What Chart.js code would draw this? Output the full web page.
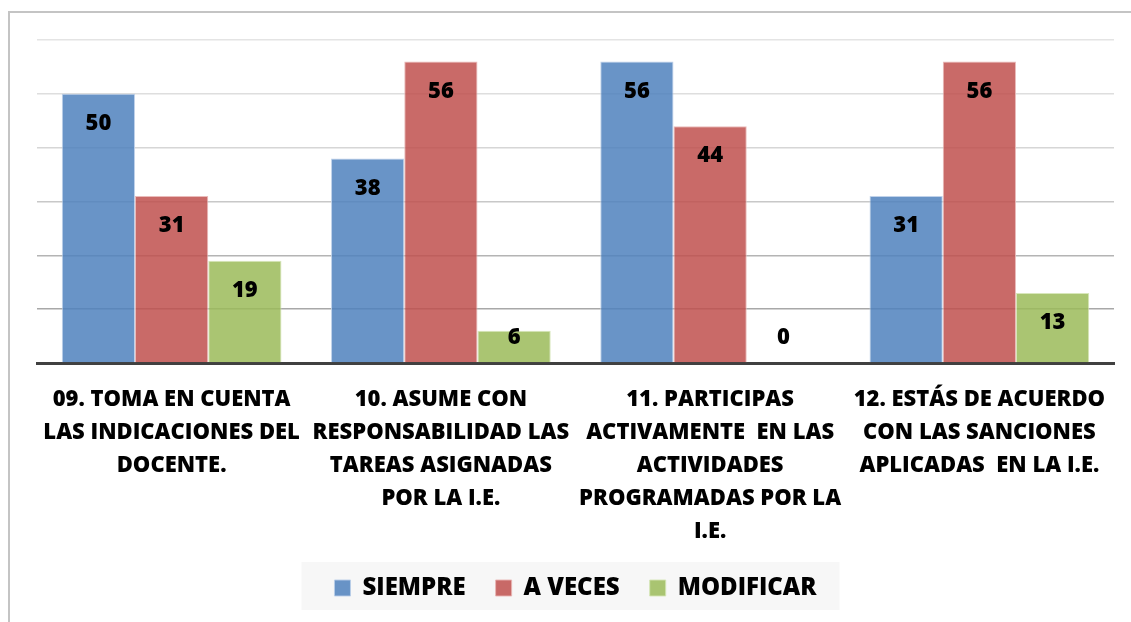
<!DOCTYPE html>
<html>
<head>
<meta charset="utf-8">
<script src="https://cdn.jsdelivr.net/npm/chart.js@4.4.1/dist/chart.umd.min.js"></script>
<style>
    html, body { margin: 0; padding: 0; background: #fff; overflow: hidden; }
    #frame {
        position: absolute; left: 8px; top: 11px; width: 1200px; height: 700px;
        border: 2px solid #c4c4c4; box-sizing: border-box;
    }
    #wrap { position: absolute; left: 0; top: 0; width: 1131px; height: 610px; }
</style>
</head>
<body>
<div id="frame"></div>
<div id="wrap"><canvas id="chart"></canvas></div>
<script>
// Questions on the x axis (already broken into lines as in the original)
const categories = [
    ['09. TOMA EN CUENTA', 'LAS INDICACIONES DEL', 'DOCENTE.'],
    ['10. ASUME CON', 'RESPONSABILIDAD LAS', 'TAREAS ASIGNADAS', 'POR LA I.E.'],
    ['11. PARTICIPAS', 'ACTIVAMENTE  EN LAS', 'ACTIVIDADES', 'PROGRAMADAS POR LA', 'I.E.'],
    ['12. ESTÁS DE ACUERDO', 'CON LAS SANCIONES', 'APLICADAS  EN LA I.E.']
];

const siempre = [50, 38, 56, 31];
const aVeces = [31, 56, 44, 56];
const modificar = [19, 6, 0, 13];

const FONT = '"Open Sans", "Noto Sans", sans-serif';
const WEIGHT = 800;

// light grid at the top, a bit darker towards the axis
const gridShades = ['#9a9a9a', '#a8a8a8', '#b4b4b4', '#c8c8c8', '#d6d6d6', '#dedede', '#e4e4e4'];

// Values written inside each bar, close to its top end
const barValueLabels = {
    id: 'barValueLabels',
    afterDatasetsDraw(chart) {
        const ctx = chart.ctx;
        ctx.save();
        ctx.font = WEIGHT + ' 22px ' + FONT;
        ctx.fillStyle = '#000';
        ctx.textAlign = 'center';
        ctx.textBaseline = 'middle';
        chart.data.datasets.forEach((ds, i) => {
            chart.getDatasetMeta(i).data.forEach((bar, j) => {
                const y = Math.min(bar.y + 30, bar.base - 25);
                ctx.fillText(String(ds.data[j]), bar.x, y);
            });
        });
        ctx.restore();
    }
};

// Grey panel behind the legend
const legendPanel = {
    id: 'legendPanel',
    beforeDraw(chart) {
        const boxes = chart.legend && chart.legend.legendHitBoxes;
        if (!boxes || !boxes.length) return;
        const left = Math.min(...boxes.map(b => b.left));
        const right = Math.max(...boxes.map(b => b.left + b.width));
        const mid = boxes[0].top + boxes[0].height / 2;
        const ctx = chart.ctx;
        ctx.save();
        ctx.fillStyle = '#f7f7f7';
        ctx.fillRect(left - 33, mid - 26, right - left + 56, 52);
        ctx.restore();
    }
};

new Chart(document.getElementById('chart'), {
    type: 'bar',
    data: {
        labels: categories,
        datasets: [
            {
                label: 'SIEMPRE',
                data: siempre,
                backgroundColor: 'rgba(79, 129, 189, 0.85)',
                borderColor: 'rgba(185, 205, 232, 0.9)',
                borderWidth: 1
            },
            {
                label: 'A VECES',
                data: aVeces,
                backgroundColor: 'rgba(192, 80, 77, 0.85)',
                borderColor: 'rgba(232, 180, 178, 0.9)',
                borderWidth: 1
            },
            {
                label: 'MODIFICAR',
                data: modificar,
                backgroundColor: 'rgba(155, 187, 89, 0.85)',
                borderColor: 'rgba(212, 228, 180, 0.9)',
                borderWidth: 1
            }
        ]
    },
    options: {
        responsive: true,
        maintainAspectRatio: false,
        animation: false,
        layout: { padding: { left: 37, right: 17, top: 40, bottom: 0 } },
        datasets: { bar: { categoryPercentage: 0.816, barPercentage: 1.0 } },
        scales: {
            x: {
                grid: { display: false, drawTicks: false },
                border: { color: '#404040', width: 3 },
                ticks: {
                    color: '#000',
                    padding: 20,
                    maxRotation: 0,
                    autoSkip: false,
                    font: { family: FONT, size: 22, weight: WEIGHT, lineHeight: 1.5 }
                },
                // let the legend sit a little closer to the labels
                afterFit(scale) { scale.height -= 22; }
            },
            y: {
                min: 0,
                max: 60,
                grid: {
                    drawTicks: false,
                    color: ctx => gridShades[ctx.index] || '#d9d9d9',
                    lineWidth: 1.5
                },
                border: { display: false },
                ticks: { display: false, stepSize: 10 }
            }
        },
        plugins: {
            legend: {
                position: 'bottom',
                labels: {
                    color: '#000',
                    boxWidth: 16,
                    boxHeight: 16,
                    padding: 30,
                    font: { family: FONT, size: 24, weight: WEIGHT }
                }
            },
            tooltip: { enabled: false }
        }
    },
    plugins: [legendPanel, barValueLabels]
});
</script>
</body>
</html>
